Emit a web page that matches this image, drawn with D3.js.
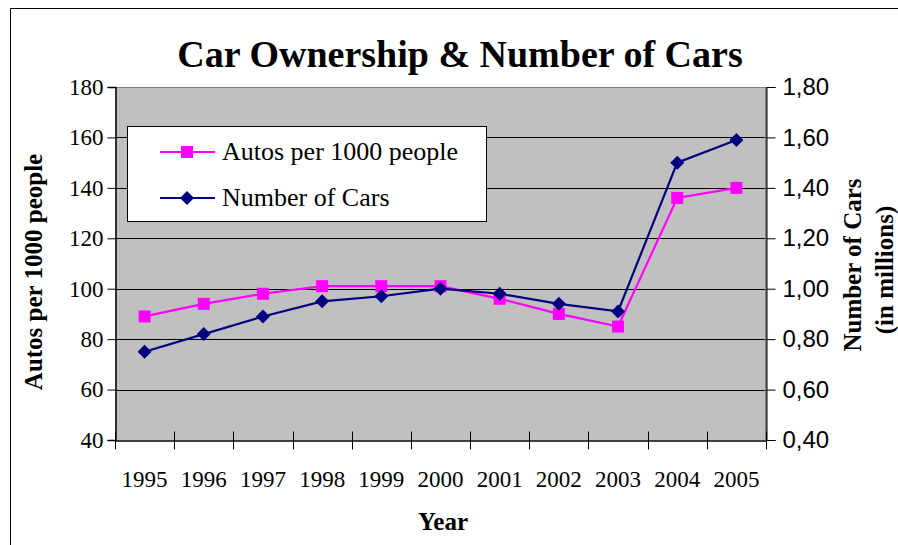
<!DOCTYPE html>
<html>
<head>
<meta charset="utf-8">
<script src="https://cdn.jsdelivr.net/npm/d3@7"></script>
<style>
  html, body { margin: 0; padding: 0; background: #fff; }
  svg { display: block; }
</style>
</head>
<body>
<svg id="chart" width="898" height="545"></svg>
<script>
// Years on the category axis
const years = ["1995","1996","1997","1998","1999","2000","2001","2002","2003","2004","2005"];
// Autos per 1000 people (left axis)
const autosPer1000 = [89, 94, 98, 101, 101, 101, 96, 90, 85, 136, 140];
// Number of cars in millions (right axis)
const carsMillions = [0.75, 0.82, 0.89, 0.95, 0.97, 1.00, 0.98, 0.94, 0.91, 1.50, 1.59];
// Tick values
const leftTicks = [40, 60, 80, 100, 120, 140, 160, 180];
const rightTicks = [0.4, 0.6, 0.8, 1.0, 1.2, 1.4, 1.6, 1.8];

const svg = d3.select("#chart");
const plot = { left: 115, right: 766, top: 87, bottom: 440 };

const serif = "'Liberation Serif', 'Times New Roman', serif";
const sans = "'Liberation Sans', Arial, sans-serif";
const PINK = "#FF00FF", NAVY = "#000080";

// Outer frame (top and left edges)
svg.append("line").attr("x1", 10.5).attr("x2", 898).attr("y1", 8.5).attr("y2", 8.5).attr("stroke", "#000");
svg.append("line").attr("x1", 10.5).attr("x2", 10.5).attr("y1", 8.5).attr("y2", 545).attr("stroke", "#000");

const x = d3.scaleBand().domain(years).range([plot.left, plot.right]).padding(0);
const yL = d3.scaleLinear().domain([40, 180]).range([plot.bottom, plot.top]);
const yR = d3.scaleLinear().domain([0.4, 1.8]).range([plot.bottom, plot.top]);

// Plot background
svg.append("rect").attr("x", plot.left).attr("y", plot.top)
  .attr("width", plot.right - plot.left).attr("height", plot.bottom - plot.top)
  .attr("fill", "#C0C0C0");

// Horizontal gridlines
svg.append("g").selectAll("line").data(leftTicks.slice(1, -1)).join("line")
  .attr("x1", plot.left).attr("x2", plot.right)
  .attr("y1", d => Math.round(yL(d)) + 0.5).attr("y2", d => Math.round(yL(d)) + 0.5)
  .attr("stroke", "#000").attr("stroke-width", 1);

// Plot border (top and right in gray)
svg.append("line").attr("x1", plot.left).attr("x2", plot.right)
  .attr("y1", plot.top + 0.5).attr("y2", plot.top + 0.5).attr("stroke", "#808080");
svg.append("line").attr("x1", plot.right).attr("x2", plot.right)
  .attr("y1", plot.top).attr("y2", plot.bottom).attr("stroke", "#808080").attr("stroke-width", 2);

// Left axis
const gL = svg.append("g").attr("transform", `translate(${plot.left + 0.5},0)`)
  .call(d3.axisLeft(yL).tickValues(leftTicks).tickSize(8).tickPadding(4).tickFormat(d3.format("d")));
gL.select(".domain").attr("stroke", "#000").attr("stroke-width", 1.5);
gL.selectAll("text").attr("font-family", serif).attr("font-size", 23).attr("fill", "#000");

// Right axis
const commaFmt = d => d3.format(".2f")(d).replace(".", ",");
const gR = svg.append("g").attr("transform", `translate(${plot.right + 0.5},0)`)
  .call(d3.axisRight(yR).tickValues(rightTicks).tickSize(9).tickPadding(7).tickFormat(commaFmt));
gR.select(".domain").attr("stroke", "#000").attr("stroke-width", 1);
gR.selectAll("text").attr("font-family", sans).attr("font-size", 24).attr("fill", "#000");

// Bottom axis: ticks at category boundaries crossing the axis line
const gB = svg.append("g").attr("transform", `translate(0,${plot.bottom + 0.5})`)
  .call(d3.axisBottom(x).tickSize(0).tickPadding(30));
gB.select(".domain").attr("stroke", "#000").attr("stroke-width", 1.5);
gB.selectAll("text").attr("font-family", serif).attr("font-size", 23).attr("fill", "#000");
const bounds = years.map(d => x(d)).concat([plot.right]);
gB.selectAll("line.bound").data(bounds).join("line").attr("class", "bound")
  .attr("x1", d => Math.round(d) + 0.5).attr("x2", d => Math.round(d) + 0.5)
  .attr("y1", -9).attr("y2", 9).attr("stroke", "#000").attr("stroke-width", 1);

// Series lines
const cx = d => x(d) + x.bandwidth() / 2;
const lineL = d3.line().x((d, i) => cx(years[i])).y(d => yL(d));
const lineR = d3.line().x((d, i) => cx(years[i])).y(d => yR(d));

svg.append("path").datum(autosPer1000).attr("d", lineL)
  .attr("fill", "none").attr("stroke", PINK).attr("stroke-width", 2.2);
svg.append("path").datum(carsMillions).attr("d", lineR)
  .attr("fill", "none").attr("stroke", NAVY).attr("stroke-width", 2.2);

// Markers
const sq = 12;
svg.append("g").selectAll("rect").data(autosPer1000).join("rect")
  .attr("x", (d, i) => cx(years[i]) - sq / 2).attr("y", d => yL(d) - sq / 2)
  .attr("width", sq).attr("height", sq).attr("fill", PINK);
const diamond = r => `M0,${-r}L${r},0L0,${r}L${-r},0Z`;
svg.append("g").selectAll("path").data(carsMillions).join("path")
  .attr("transform", (d, i) => `translate(${cx(years[i])},${yR(d)})`)
  .attr("d", diamond(7)).attr("fill", NAVY);

// Legend
const lg = svg.append("g");
lg.append("rect").attr("x", 127.5).attr("y", 126.5).attr("width", 359).attr("height", 95)
  .attr("fill", "#fff").attr("stroke", "#000").attr("stroke-width", 1);
const legendItems = [
  { label: "Autos per 1000 people", color: PINK, shape: "square", y: 152 },
  { label: "Number of Cars", color: NAVY, shape: "diamond", y: 198 }
];
legendItems.forEach(it => {
  lg.append("line").attr("x1", 160).attr("x2", 215).attr("y1", it.y).attr("y2", it.y)
    .attr("stroke", it.color).attr("stroke-width", 2);
  if (it.shape === "square") {
    lg.append("rect").attr("x", 181).attr("y", it.y - 6).attr("width", 12).attr("height", 12).attr("fill", it.color);
  } else {
    lg.append("path").attr("transform", `translate(187,${it.y})`).attr("d", diamond(7)).attr("fill", it.color);
  }
  lg.append("text").attr("x", 222).attr("y", it.y + 8).text(it.label)
    .attr("font-family", serif).attr("font-size", 26).attr("fill", "#000");
});

// Title
svg.append("text").attr("x", 460).attr("y", 67).attr("text-anchor", "middle")
  .attr("font-family", serif).attr("font-weight", "bold").attr("font-size", 38)
  .text("Car Ownership & Number of Cars");

// Axis titles
svg.append("text").attr("x", 443).attr("y", 530).attr("text-anchor", "middle")
  .attr("font-family", serif).attr("font-weight", "bold").attr("font-size", 25).text("Year");
svg.append("text").attr("transform", "translate(42,272) rotate(-90)").attr("text-anchor", "middle")
  .attr("font-family", serif).attr("font-weight", "bold").attr("font-size", 25).text("Autos per 1000 people");
svg.append("text").attr("transform", "translate(861,265) rotate(-90)").attr("text-anchor", "middle")
  .attr("font-family", serif).attr("font-weight", "bold").attr("font-size", 25).text("Number of Cars");
svg.append("text").attr("transform", "translate(893,270) rotate(-90)").attr("text-anchor", "middle")
  .attr("font-family", serif).attr("font-weight", "bold").attr("font-size", 25).text("(in millions)");
</script>
</body>
</html>
